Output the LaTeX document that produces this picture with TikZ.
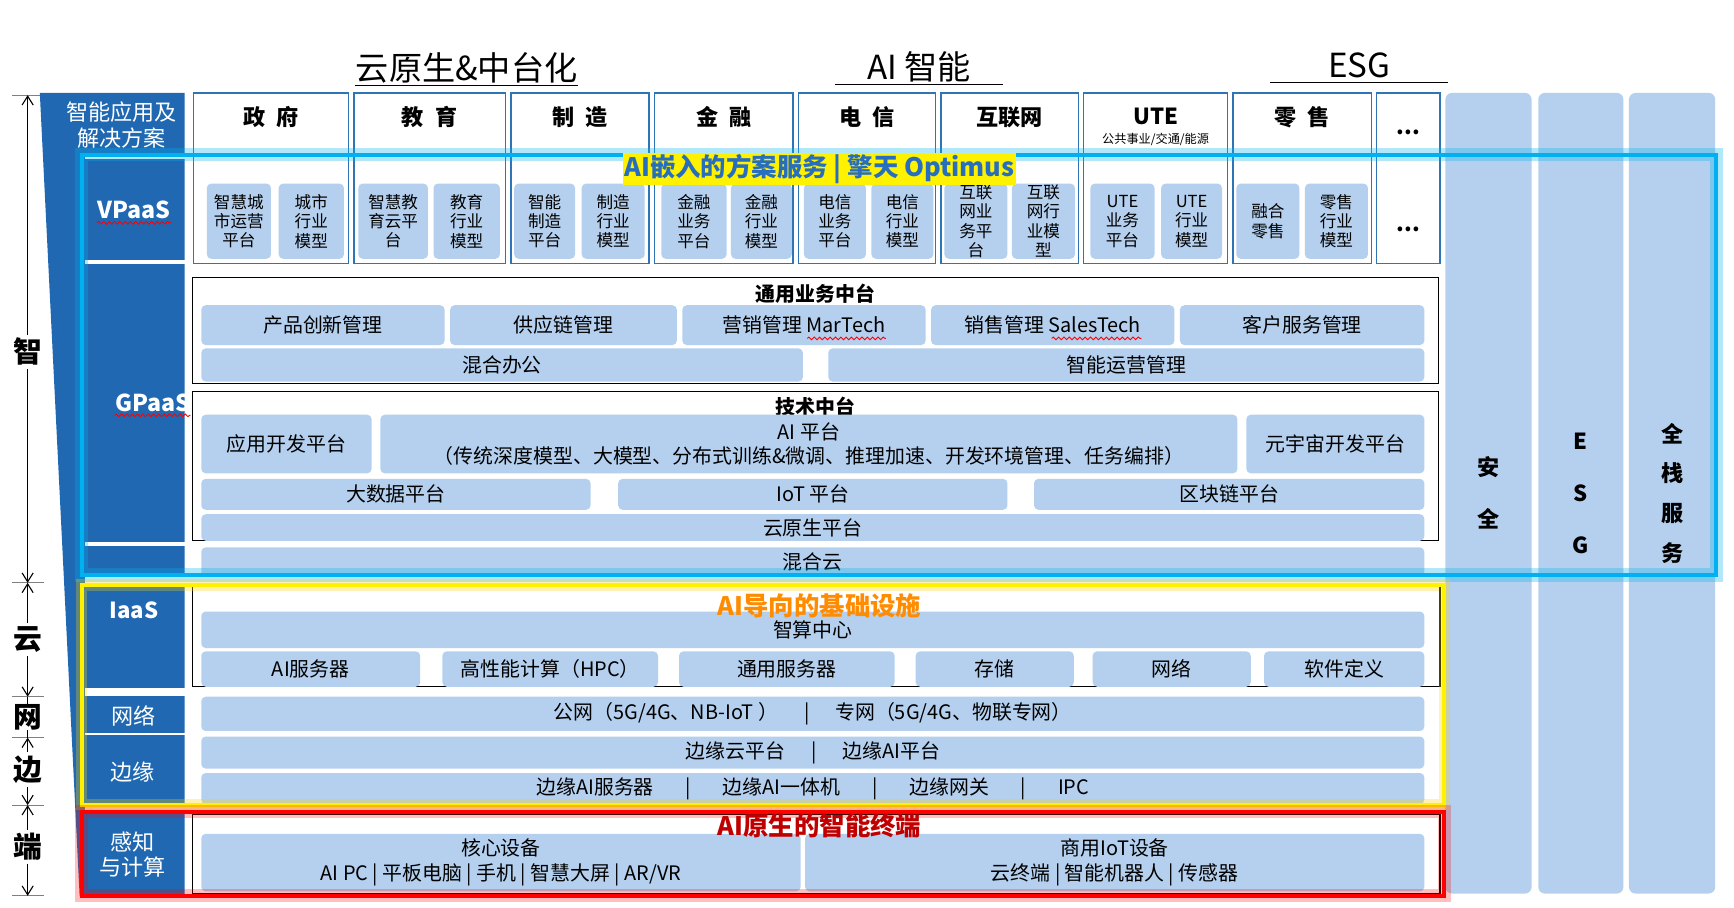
\documentclass[tikz,border=0pt]{standalone}
\usepackage{fontspec}
\setmainfont{Noto Sans CJK SC}
\usetikzlibrary{positioning, calc, arrows.meta, decorations.pathmorphing}

\definecolor{panelblue}{RGB}{32,105,178}
\definecolor{itemblue}{RGB}{180,208,238}
\definecolor{lineblue}{RGB}{46,117,182}
\definecolor{glowcyan}{RGB}{0,176,240}
\definecolor{titleblue}{RGB}{40,110,190}
\definecolor{infraorange}{RGB}{255,140,0}
\definecolor{termred}{RGB}{192,0,0}
\definecolor{tickgray}{RGB}{128,128,128}

\tikzset{
    item box/.style={fill=itemblue, rounded corners=2pt, inner sep=0pt, outer sep=0pt, align=center, font=\fontsize{9}{10.5}\selectfont},
    cell box/.style={item box, font=\fontsize{7.5}{8.8}\selectfont},
    side box/.style={item box, rounded corners=3pt, font=\fontsize{10}{23.5}\selectfont\bfseries},
    trade box/.style={draw=lineblue, line width=0.6pt, inner sep=0pt, outer sep=0pt},
    layer box/.style={draw=black, line width=0.6pt, inner sep=0pt, outer sep=0pt},
    trade title/.style={font=\fontsize{10}{12}\selectfont\bfseries, inner sep=0pt},
    layer title/.style={font=\fontsize{9}{11}\selectfont\bfseries, inner sep=0pt},
    panel label/.style={text=white, align=center, inner sep=0pt, font=\fontsize{10}{11.5}\selectfont},
    axis label/.style={fill=white, inner sep=1.5pt, font=\fontsize{13}{13}\selectfont\bfseries},
    head label/.style={font=\fontsize{15}{15}\selectfont, inner sep=0pt, text depth=0.12em},
    head rule/.style={draw=black, line width=0.6pt},
    frame title/.style={font=\fontsize{11.5}{12}\selectfont\bfseries, inner sep=0.6pt},
    spell mark/.style={draw=red, line width=0.4pt, decorate, decoration={snake, amplitude=0.6pt, segment length=2.4pt}},
    tick/.style={draw=tickgray, line width=0.5pt},
    span/.style={draw=black, line width=0.5pt, {Straight Barb[length=4pt, width=5pt]}-{Straight Barb[length=4pt, width=5pt]}},
    cyan frame/.style={draw=glowcyan, line width=1.8pt, preaction={draw=glowcyan, draw opacity=0.3, line width=6pt}},
    yellow frame/.style={draw=yellow, line width=1.8pt, preaction={draw=yellow!70!orange, draw opacity=0.3, line width=5pt}},
    red frame/.style={draw=red, line width=2pt, preaction={draw=red, draw opacity=0.25, line width=6pt}},
}

% box from (x1,y1) to (x2,y2) in picture units
\newcommand{\blockitem}[7][]{%
    \pgfmathsetmacro{\itemw}{(#5-#3)*0.5}%
    \pgfmathsetmacro{\itemh}{(#6-#4)*0.5}%
    \node[#1, minimum width=\itemw pt, minimum height=\itemh pt, anchor=north west] (#2) at (#3,#4) {#7};%
}

\begin{document}
\begin{tikzpicture}[x=0.5pt, y=-0.5pt]
    \useasboundingbox (0,0) rectangle (1568,821);
    \fill[white] (0,0) rectangle (1568,821);

    % headings
    \node[head label] (cloudH) at (422,61) {云原生\&中台化};
    \node[head label] (aiH) at (831,60) {AI 智能};
    \node[head label] (esgH) at (1229,60) {ESG};
    \draw[head rule] ([yshift=-1pt]cloudH.south west) -- ([yshift=-1pt]cloudH.south east);
    \draw[head rule] ([xshift=-14.5pt,yshift=-1pt]aiH.south west) -- ([xshift=14.5pt,yshift=-1pt]aiH.south east);
    \draw[head rule] ([xshift=-26pt,yshift=-1pt]esgH.south west) -- ([xshift=26pt,yshift=-1pt]esgH.south east);

    % left axis
    \coordinate (t0) at (25,86);
    \coordinate (t1) at (25,527);
    \coordinate (t2) at (25,630);
    \coordinate (t3) at (25,667);
    \coordinate (t4) at (25,728);
    \coordinate (t5) at (25,810);
    \foreach \t in {t0,t1,t2,t3,t4,t5}
        \draw[tick] ([xshift=-7pt]\t) -- ([xshift=7.5pt]\t);
    \draw[span] (t0) -- node[axis label, pos=0.526] (zhiL) {智} (t1);
    \draw[span] (t1) -- node[axis label] (yunL) {云} (t2);
    \draw[line width=0.5pt] (t2) -- node[axis label, inner sep=0pt] (wangL) {网} (t3);
    \draw[span] (t3) -- node[axis label, pos=0.475] (bianL) {边} (t4);
    \draw[span] (t4) -- node[axis label, pos=0.46] (duanL) {端} (t5);

    % left panel
    \fill[panelblue] (36,84) -- (167,84) -- (167,810) -- (72,810) -- cycle;
    \fill[white] (77,141) rectangle (168,143.5);
    \fill[white] (77,235.5) rectangle (168,238.5);
    \fill[white] (77,490) rectangle (168,494);
    \fill[white] (77,520) rectangle (168,529);
    \fill[white] (77,622) rectangle (168,629);
    \fill[white] (77,662.5) rectangle (168,665);
    \fill[white] (77,727) rectangle (168,734);
    \node[panel label] (appL) at (110,113) {智能应用及\\解决方案};
    \node[panel label, font=\fontsize{10.5}{11}\selectfont\bfseries] (vpaasL) at (121,190) {VPaaS};
    \node[panel label, font=\fontsize{10.5}{11}\selectfont\bfseries] (gpaasL) at (138,364) {GPaaS};
    \node[panel label, font=\fontsize{10}{11}\selectfont\bfseries] (iaasL) at (121,552) {IaaS};
    \node[panel label] (netL) at (121,647) {网络};
    \node[panel label] (edgeL) at (120,698) {边缘};
    \node[panel label] (senseL) at (120,773) {感知\\与计算};
    \draw[spell mark] ([yshift=-1.5pt]vpaasL.south west) -- ([yshift=-1.5pt]vpaasL.south east);
    \draw[spell mark] ([yshift=-1.5pt]gpaasL.south west) -- ([yshift=-1.5pt]gpaasL.south east);

    % side columns
    \blockitem[side box]{safe}{1307}{84}{1385}{808}{安\\全}
    \blockitem[side box]{esg}{1391}{84}{1468}{808}{E\\S\\G}
    \blockitem[side box, font=\fontsize{10}{18}\selectfont\bfseries]{stack}{1473}{84}{1551}{808}{全\\栈\\服\\务}

    % industry columns
    \blockitem[trade box]{gov}{175}{84}{315}{238}{}
    \node[trade title, below=6pt of gov.north] (govT) {政\enspace 府};
    \blockitem[cell box]{govA}{187}{166}{245}{234}{智慧城\\市运营\\平台}
    \blockitem[cell box]{govB}{252}{166}{311}{234}{城市\\行业\\模型}
    \blockitem[trade box]{edu}{320}{84}{457}{238}{}
    \node[trade title, below=6pt of edu.north] (eduT) {教\enspace 育};
    \blockitem[cell box]{eduA}{324}{166}{387}{234}{智慧教\\育云平\\台}
    \blockitem[cell box]{eduB}{392}{166}{452}{234}{教育\\行业\\模型}
    \blockitem[trade box]{mfg}{462}{84}{587}{238}{}
    \node[trade title, below=6pt of mfg.north] (mfgT) {制\enspace 造};
    \blockitem[cell box]{mfgA}{465}{166}{520}{234}{智能\\制造\\平台}
    \blockitem[cell box]{mfgB}{526}{166}{583}{234}{制造\\行业\\模型}
    \blockitem[trade box]{fin}{592}{84}{717}{238}{}
    \node[trade title, below=6pt of fin.north] (finT) {金\enspace 融};
    \blockitem[cell box]{finA}{598}{166}{657}{234}{金融\\业务\\平台}
    \blockitem[cell box]{finB}{661}{166}{716}{234}{金融\\行业\\模型}
    \blockitem[trade box]{tel}{722}{84}{846}{238}{}
    \node[trade title, below=6pt of tel.north] (telT) {电\enspace 信};
    \blockitem[cell box]{telA}{727}{166}{783}{234}{电信\\业务\\平台}
    \blockitem[cell box]{telB}{788}{166}{844}{234}{电信\\行业\\模型}
    \blockitem[trade box]{web}{851}{84}{975}{238}{}
    \node[trade title, below=6pt of web.north] (webT) {互联网};
    \blockitem[cell box]{webA}{854}{166}{911}{234}{互联\\网业\\务平\\台}
    \blockitem[cell box]{webB}{915}{166}{972}{234}{互联\\网行\\业模\\型}
    \blockitem[trade box]{ute}{980}{84}{1110}{238}{}
    \node[trade title, below=6.5pt of ute.north] (uteT) {UTE};
    \node[inner sep=0pt, font=\fontsize{5.5}{6}\selectfont, below=3.5pt of uteT] (uteS) {公共事业/交通/能源};
    \blockitem[cell box]{uteA}{986}{166}{1044}{234}{UTE\\业务\\平台}
    \blockitem[cell box]{uteB}{1050}{166}{1105}{234}{UTE\\行业\\模型}
    \blockitem[trade box]{ret}{1115}{84}{1240}{238}{}
    \node[trade title, below=6pt of ret.north] (retT) {零\enspace 售};
    \blockitem[cell box]{retA}{1118}{166}{1175}{234}{融合\\零售}
    \blockitem[cell box]{retB}{1180}{166}{1237}{234}{零售\\行业\\模型}
    \blockitem[trade box]{more}{1245}{84}{1302}{238}{}
    \node[trade title] (moreT) at (1273.5,120) {...};
    \node[trade title] (moreS) at (1273.5,207) {...};

    % GPaaS
    \blockitem[layer box]{biz}{174}{251}{1301}{347}{}
    \node[layer title, below=2.5pt of biz.north] (bizT) {通用业务中台};
    \blockitem[item box]{prod}{182}{276}{402}{312}{产品创新管理}
    \blockitem[item box]{supply}{407}{276}{612}{312}{供应链管理}
    \blockitem[item box]{mkt}{617}{276}{837}{312}{营销管理 MarTech}
    \blockitem[item box]{sales}{842}{276}{1062}{312}{销售管理 SalesTech}
    \blockitem[item box]{cust}{1067}{276}{1288}{312}{客户服务管理}
    \blockitem[item box]{office}{182}{315}{726}{345}{混合办公}
    \blockitem[item box]{ops}{749}{315}{1288}{345}{智能运营管理}
    \draw[spell mark] ($(mkt.center)+(3,12)$) -- ($(mkt.center)+(74,12)$);
    \draw[spell mark] ($(sales.center)+(-1,12)$) -- ($(sales.center)+(80,12)$);

    \blockitem[layer box]{tech}{174}{354}{1301}{489}{}
    \node[layer title, below=2.5pt of tech.north] (techT) {技术中台};
    \blockitem[item box]{appdev}{182}{375}{336}{428}{应用开发平台}
    \blockitem[item box]{aiplat}{344}{375}{1119}{428}{AI 平台\\（传统深度模型、大模型、分布式训练\&微调、推理加速、开发环境管理、任务编排）}
    \blockitem[item box]{meta}{1127}{375}{1288}{428}{元宇宙开发平台}
    \blockitem[item box]{bigdata}{182}{433}{534}{461}{大数据平台}
    \blockitem[item box]{iot}{559}{433}{911}{461}{IoT 平台}
    \blockitem[item box]{chain}{935}{433}{1288}{461}{区块链平台}
    \blockitem[item box]{native}{182}{465}{1288}{489}{云原生平台}
    \blockitem[item box]{hybrid}{182}{495}{1288}{521}{混合云}

    % IaaS, network, edge
    \blockitem[layer box]{iaas}{174}{530}{1302}{621}{}
    \blockitem[item box]{aic}{182}{553}{1288}{586}{智算中心}
    \blockitem[item box]{aisrv}{182}{589}{380}{621}{AI服务器}
    \blockitem[item box]{hpc}{400}{589}{595}{621}{高性能计算（HPC）}
    \blockitem[item box]{gensrv}{614}{589}{809}{621}{通用服务器}
    \blockitem[item box]{store}{828}{589}{971}{621}{存储}
    \blockitem[item box]{netw}{988}{589}{1131}{621}{网络}
    \blockitem[item box]{sdef}{1143}{589}{1288}{621}{软件定义}
    \blockitem[item box]{wan}{182}{630}{1288}{661}{公网（5G/4G、NB-IoT ）\hspace{1.3em}|\hspace{1.3em}专网（5G/4G、物联专网）}
    \blockitem[item box]{edgeA}{182}{666}{1288}{695}{边缘云平台\hspace{1.3em}|\hspace{1.3em}边缘AI平台}
    \blockitem[item box]{edgeB}{182}{699}{1288}{727}{边缘AI服务器\hspace{1.6em}|\hspace{1.6em}边缘AI一体机\hspace{1.6em}|\hspace{1.6em}边缘网关\hspace{1.6em}|\hspace{1.6em}IPC}

    % terminals
    \blockitem[layer box]{term}{174}{736}{1302}{808}{}
    \blockitem[item box, font=\fontsize{9}{11.5}\selectfont]{core}{182}{754}{724}{806}{核心设备\\AI PC | 平板电脑 | 手机 | 智慧大屏 | AR/VR}
    \blockitem[item box, font=\fontsize{9}{11.5}\selectfont]{biot}{728}{754}{1288}{806}{商用IoT设备\\云终端 | 智能机器人 | 传感器}

    % frames
    \draw[cyan frame] (74,140) rectangle (1552,520);
    \draw[yellow frame] (74,529) rectangle (1306,727.5);
    \draw[red frame] (74,734) rectangle (1306,810);
    \node[frame title, fill=yellow, text=titleblue] (vTitle) at (741,153) {AI嵌入的方案服务 | 擎天 Optimus};
    \node[frame title, text=infraorange] (iTitle) at (741,548) {AI导向的基础设施};
    \node[frame title, text=termred] (tTitle) at (741,747) {AI原生的智能终端};
\end{tikzpicture}
\end{document}
